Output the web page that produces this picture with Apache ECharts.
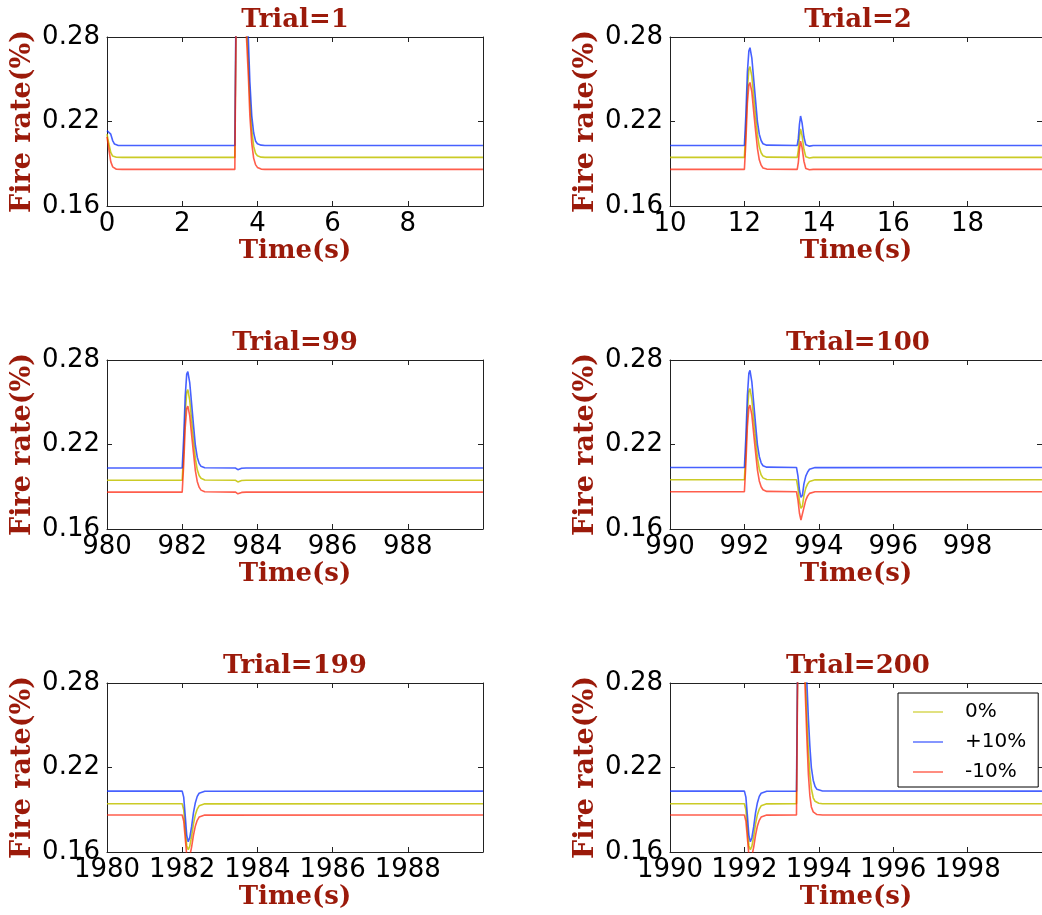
<!DOCTYPE html>
<html><head><meta charset="utf-8">
<script src="https://cdn.jsdelivr.net/npm/echarts@6/dist/echarts.min.js"></script>
<style>html,body{margin:0;padding:0;background:#fff}#c{width:1042px;height:915px}</style>
</head><body><div id="c"></div>
<script>
// ---- data ----
const titles = ['Trial=1', 'Trial=2', 'Trial=99', 'Trial=100', 'Trial=199', 'Trial=200'];
const xStarts = [0, 10, 980, 990, 1980, 1990];
const seriesNames = ['0%', '+10%', '-10%'];
const yTicks = [0.16, 0.22, 0.28];

const t1 = [0, 0.05, 0.1, 0.15, 0.2, 0.25, 0.3, 0.4, 3.40, 3.43, 3.47, 3.52, 3.58, 3.64, 3.70, 3.76, 3.80, 3.85, 3.90, 3.95, 4.0, 4.1, 4.2, 9.999];
const blue1 = [0.2135, 0.2145, 0.2110, 0.2065, 0.2040, 0.2033, 0.2030, 0.2030, 0.2030, 0.300, 0.400, 0.440, 0.400, 0.350, 0.310, 0.278, 0.248, 0.224, 0.2120, 0.2062, 0.2042, 0.2032, 0.2030, 0.2030];
const yellow1 = [0.2110, 0.2040, 0.1980, 0.1955, 0.1948, 0.1946, 0.1945, 0.1945, 0.1945, 0.290, 0.385, 0.420, 0.380, 0.330, 0.295, 0.264, 0.236, 0.214, 0.2025, 0.1975, 0.1957, 0.1947, 0.1945, 0.1945];
const red1 = [0.2090, 0.2000, 0.1915, 0.1878, 0.1865, 0.1861, 0.1860, 0.1860, 0.1860, 0.280, 0.370, 0.400, 0.360, 0.315, 0.285, 0.252, 0.224, 0.2045, 0.1940, 0.1894, 0.1874, 0.1862, 0.1860, 0.1860];

const t2 = [10, 12.0, 12.04, 12.08, 12.12, 12.15, 12.2, 12.25, 12.3, 12.35, 12.4, 12.45, 12.5, 12.6, 13.42, 13.45, 13.48, 13.51, 13.55, 13.60, 13.65, 13.70, 13.75, 13.85, 19.999];
const blue2 = [0.2030, 0.2030, 0.2250, 0.2550, 0.2700, 0.2724, 0.2650, 0.2500, 0.2350, 0.2200, 0.2110, 0.2065, 0.2042, 0.2032, 0.2030, 0.2080, 0.2180, 0.2239, 0.2190, 0.2090, 0.2035, 0.2022, 0.2025, 0.2030, 0.2030];
const yellow2 = [0.1945, 0.1945, 0.2150, 0.2430, 0.2570, 0.2590, 0.2520, 0.2380, 0.2240, 0.2105, 0.2020, 0.1978, 0.1957, 0.1947, 0.1945, 0.1995, 0.2090, 0.2147, 0.2100, 0.2003, 0.1950, 0.1938, 0.1941, 0.1945, 0.1945];
const red2 = [0.1860, 0.1860, 0.2060, 0.2330, 0.2460, 0.2477, 0.2410, 0.2270, 0.2135, 0.2010, 0.1928, 0.1890, 0.1870, 0.1862, 0.1860, 0.1910, 0.2000, 0.2060, 0.2015, 0.1918, 0.1866, 0.1855, 0.1857, 0.1860, 0.1860];

const t3 = [980, 982.0, 982.04, 982.08, 982.12, 982.15, 982.2, 982.25, 982.3, 982.35, 982.4, 982.45, 982.5, 982.6, 983.42, 983.45, 983.48, 983.52, 983.58, 983.7, 989.999];
const blue3 = [0.2033, 0.2033, 0.2250, 0.2540, 0.2700, 0.2718, 0.2640, 0.2490, 0.2340, 0.2195, 0.2110, 0.2066, 0.2045, 0.2035, 0.2033, 0.2045, 0.2021, 0.2026, 0.2031, 0.2033, 0.2033];
const yellow3 = [0.1946, 0.1946, 0.2150, 0.2425, 0.2570, 0.2590, 0.2515, 0.2375, 0.2235, 0.2102, 0.2022, 0.1980, 0.1960, 0.1948, 0.1946, 0.1958, 0.1934, 0.1939, 0.1944, 0.1946, 0.1946];
const red3 = [0.1862, 0.1862, 0.2060, 0.2320, 0.2455, 0.2472, 0.2405, 0.2270, 0.2140, 0.2015, 0.1938, 0.1897, 0.1876, 0.1864, 0.1862, 0.1874, 0.1850, 0.1855, 0.1860, 0.1862, 0.1862];

const t4 = [990, 992.0, 992.04, 992.08, 992.12, 992.15, 992.2, 992.25, 992.3, 992.35, 992.4, 992.45, 992.5, 992.6, 993.40, 993.44, 993.48, 993.52, 993.56, 993.60, 993.65, 993.70, 993.75, 993.80, 993.90, 999.999];
const blue4 = [0.2037, 0.2037, 0.2255, 0.2545, 0.2705, 0.2727, 0.2645, 0.2495, 0.2345, 0.2200, 0.2115, 0.2070, 0.2049, 0.2039, 0.2037, 0.1975, 0.1875, 0.1825, 0.1840, 0.1920, 0.1975, 0.2005, 0.2024, 0.2033, 0.2036, 0.2037];
const yellow4 = [0.1950, 0.1950, 0.2155, 0.2430, 0.2577, 0.2597, 0.2520, 0.2380, 0.2240, 0.2106, 0.2026, 0.1984, 0.1963, 0.1952, 0.1950, 0.1890, 0.1795, 0.1747, 0.1762, 0.1837, 0.1890, 0.1920, 0.1938, 0.1946, 0.1949, 0.1950];
const red4 = [0.1865, 0.1865, 0.2065, 0.2325, 0.2462, 0.2479, 0.2410, 0.2275, 0.2145, 0.2020, 0.1941, 0.1900, 0.1879, 0.1867, 0.1865, 0.1805, 0.1712, 0.1664, 0.1678, 0.1752, 0.1805, 0.1835, 0.1853, 0.1861, 0.1864, 0.1865];

const t5 = [1980, 1982.0, 1982.04, 1982.08, 1982.12, 1982.16, 1982.2, 1982.25, 1982.3, 1982.35, 1982.4, 1982.45, 1982.5, 1982.6, 1989.999];
const blue5 = [0.2032, 0.2032, 0.1990, 0.1860, 0.1720, 0.1673, 0.1700, 0.1780, 0.1880, 0.1950, 0.1995, 0.2017, 0.2027, 0.2031, 0.2032];
const yellow5 = [0.1943, 0.1943, 0.1900, 0.1770, 0.1645, 0.1616, 0.1640, 0.1710, 0.1800, 0.1865, 0.1905, 0.1928, 0.1938, 0.1942, 0.1943];
const red5 = [0.1863, 0.1863, 0.1820, 0.1700, 0.1580, 0.1550, 0.1570, 0.1635, 0.1720, 0.1785, 0.1825, 0.1848, 0.1858, 0.1862, 0.1863];

const t6 = [1990, 1992.0, 1992.04, 1992.08, 1992.12, 1992.16, 1992.2, 1992.25, 1992.3, 1992.35, 1992.4, 1992.45, 1992.5, 1992.6, 1993.40, 1993.43, 1993.47, 1993.52, 1993.57, 1993.62, 1993.68, 1993.72, 1993.76, 1993.80, 1993.85, 1993.90, 1993.95, 1994.0, 1994.1, 1999.999];
const blue6 = [0.2032, 0.2032, 0.1990, 0.1860, 0.1720, 0.1673, 0.1700, 0.1780, 0.1880, 0.1950, 0.1995, 0.2017, 0.2027, 0.2031, 0.2032, 0.300, 0.400, 0.440, 0.400, 0.330, 0.280, 0.255, 0.235, 0.220, 0.2110, 0.2065, 0.2045, 0.2037, 0.2033, 0.2032];
const yellow6 = [0.1943, 0.1943, 0.1900, 0.1770, 0.1645, 0.1616, 0.1640, 0.1710, 0.1800, 0.1865, 0.1905, 0.1928, 0.1938, 0.1942, 0.1943, 0.290, 0.385, 0.420, 0.375, 0.300, 0.255, 0.232, 0.215, 0.205, 0.1985, 0.1960, 0.1950, 0.1946, 0.1943, 0.1943];
const red6 = [0.1863, 0.1863, 0.1820, 0.1700, 0.1580, 0.1550, 0.1570, 0.1635, 0.1720, 0.1785, 0.1825, 0.1848, 0.1858, 0.1862, 0.1863, 0.280, 0.370, 0.400, 0.355, 0.285, 0.240, 0.215, 0.200, 0.192, 0.1885, 0.1872, 0.1866, 0.1864, 0.1863, 0.1863];

const panelTimes = [t1, t2, t3, t4, t5, t6];
const panelYellow = [yellow1, yellow2, yellow3, yellow4, yellow5, yellow6];
const panelBlue = [blue1, blue2, blue3, blue4, blue5, blue6];
const panelRed = [red1, red2, red3, red4, red5, red6];

// ---- layout / style ----
const colLeft = [107, 670];
const rowTop = [37, 360, 683];
const W = 376, H = 169;
const darkRed = '#9b1a0a';
const lineColors = ['#c2c200', '#0a2cff', '#ff1a00'];
const lineOpacity = [0.85, 0.75, 0.7];
const serifBold = {fontFamily: 'DejaVu Serif', fontWeight: 'bold', fontSize: 26, color: darkRed};
const tickFont = {fontFamily: 'DejaVu Sans', fontSize: 26, color: '#000'};
const axisLineStyle = {color: '#222', width: 1};

const grids = [], xAxes = [], yAxes = [], series = [], titleArr = [];
for (let i = 0; i < 6; i++) {
  const col = i % 2, row = Math.floor(i / 2);
  const left = colLeft[col], top = rowTop[row];
  grids.push({left: left, top: top, width: W, height: H});
  const xs = xStarts[i];
  const common = {type: 'value', gridIndex: i, min: xs, max: xs + 10, interval: 2,
    axisLine: {show: true, onZero: false, lineStyle: axisLineStyle},
    axisTick: {show: true, inside: true, length: 5, lineStyle: axisLineStyle},
    splitLine: {show: false}};
  xAxes.push(Object.assign({}, common, {position: 'bottom',
    axisLabel: Object.assign({showMaxLabel: false, showMinLabel: true, margin: 5, hideOverlap: false,
      formatter: v => String(v)}, tickFont),
    name: 'Time(s)', nameLocation: 'middle', nameGap: 29, nameTextStyle: serifBold}));
  xAxes.push(Object.assign({}, common, {position: 'top', axisLabel: {show: false}}));
  const ycommon = {type: 'value', gridIndex: i, min: yTicks[0], max: yTicks[2], interval: yTicks[1] - yTicks[0],
    axisLine: {show: true, onZero: false, lineStyle: axisLineStyle},
    axisTick: {show: true, inside: true, length: 5, lineStyle: axisLineStyle},
    splitLine: {show: false}};
  yAxes.push(Object.assign({}, ycommon, {position: 'left',
    axisLabel: Object.assign({margin: 7, showMinLabel: true, showMaxLabel: true, hideOverlap: false,
      formatter: v => v.toFixed(2)}, tickFont),
    name: 'Fire rate(%)', nameLocation: 'middle', nameGap: 71,
    nameTextStyle: Object.assign({}, serifBold, {fontSize: 27})}));
  yAxes.push(Object.assign({}, ycommon, {position: 'right', axisLabel: {show: false}}));
  titleArr.push({text: titles[i], left: left + W / 2, top: top - 30, textAlign: 'center', padding: 0,
    textStyle: serifBold});
  const vals = [panelYellow[i], panelBlue[i], panelRed[i]];
  for (let s = 0; s < 3; s++) {
    series.push({
      name: seriesNames[s], type: 'line', xAxisIndex: 2 * i, yAxisIndex: 2 * i,
      data: panelTimes[i].map((t, k) => [t, vals[s][k]]),
      symbol: 'none', clip: true, animation: false,
      itemStyle: {color: lineColors[s]},
      lineStyle: {color: lineColors[s], width: 1.6, opacity: lineOpacity[s]},
      z: 2 + (s === 1 ? 0 : s)
    });
  }
}

const chart = echarts.init(document.getElementById('c'), null, {renderer: 'canvas'});
chart.setOption({
  animation: false,
  backgroundColor: '#fff',
  title: titleArr,
  grid: grids,
  xAxis: xAxes,
  yAxis: yAxes,
  legend: {
    show: true, orient: 'vertical', left: 898, top: 693,
    data: seriesNames,
    backgroundColor: '#fff', borderColor: '#000', borderWidth: 1,
    padding: [9, 12, 5, 15], itemWidth: 30, itemHeight: 14, itemGap: 10,
    icon: 'path://M0,0 L30,0 L30,1 L0,1 Z',
    textStyle: {fontFamily: 'DejaVu Sans', fontSize: 20, color: '#000', padding: [0, 0, 0, 17]}
  },
  series: series
});
</script></body></html>
